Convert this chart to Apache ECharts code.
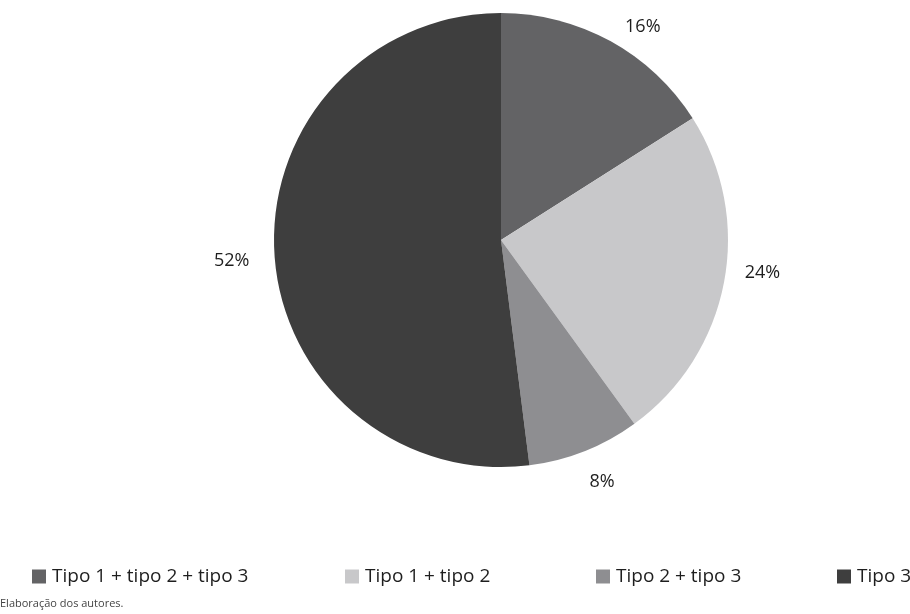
<!DOCTYPE html>
<html><head><meta charset="utf-8">
<script src="https://cdn.jsdelivr.net/npm/echarts@6/dist/echarts.min.js"></script>
<style>html,body{margin:0;padding:0;background:#fff}#c{width:910px;height:614px}</style>
</head><body><div id="c"></div>
<script>
const categories = ['Tipo 1 + tipo 2 + tipo 3', 'Tipo 1 + tipo 2', 'Tipo 2 + tipo 3', 'Tipo 3'];
const values = [16, 24, 8, 52];
const colors = ['#636365', '#c8c8ca', '#8e8e91', '#3e3e3e'];
const source = 'Elaboração dos autores.';

const chart = echarts.init(document.getElementById('c'));
const font = '"Open Sans", "Noto Sans", sans-serif';
// layout tweaks (style only)
const legendLefts = [32, 345, 596, 837];
const labelShift = [[2, 0], [0, -13], [-6, 16], [-4, 6]];
chart.setOption({
  animation: false,
  title: { text: source, left: 0, top: 598, padding: 0, textStyle: { fontSize: 11, fontWeight: 'normal', color: '#444', fontFamily: font } },
  legend: categories.map((c, i) => ({
    data: [c], left: legendLefts[i], top: 567, padding: 0, itemWidth: 14, itemHeight: 14, icon: 'rect',
    selectedMode: false,
    textStyle: { fontSize: 19, color: '#1e1e1e', fontFamily: font, padding: [0, 0, 0, 1] }
  })),
  series: [{
    type: 'pie', center: [501, 240], radius: 227, startAngle: 90, clockwise: true,
    itemStyle: { borderWidth: 0 },
    label: { show: true, position: 'outside', formatter: '{c}%', fontSize: 18, color: '#1e1e1e', fontFamily: font },
    labelLine: { show: false, length: 16, length2: 0 },
    labelLayout: p => ({ dx: labelShift[p.dataIndex][0], dy: labelShift[p.dataIndex][1] }),
    data: categories.map((c, i) => ({ name: c, value: values[i], itemStyle: { color: colors[i] } }))
  }]
});
</script></body></html>
